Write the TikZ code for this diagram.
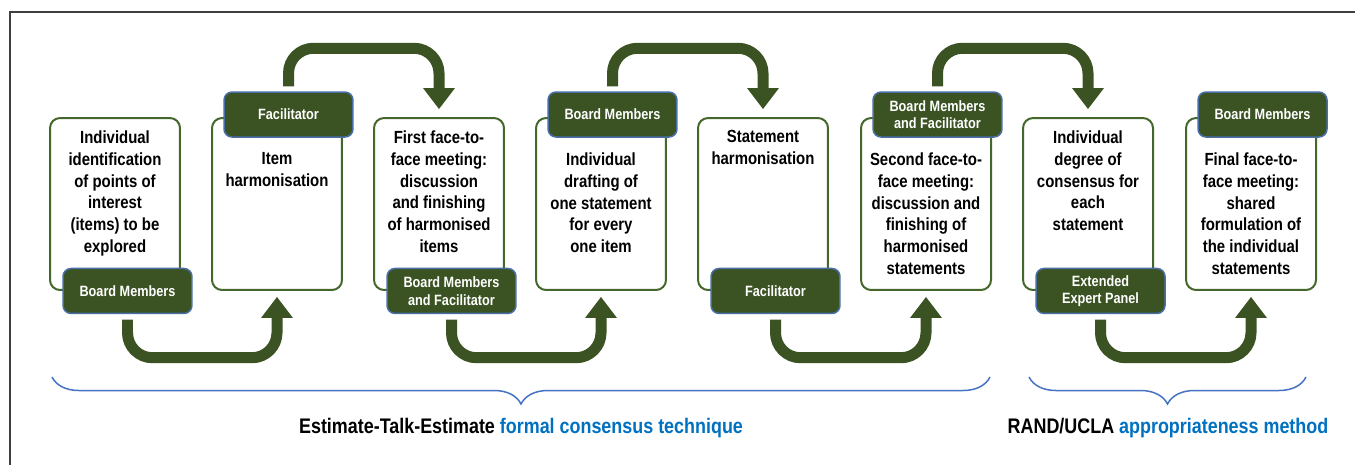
\documentclass[tikz,border=0pt]{standalone}
\usepackage{fontspec}
\setmainfont{Liberation Sans}[FakeStretch=0.85]
\usepackage{xcolor}
\usepackage{tikz}
\usetikzlibrary{arrows.meta,decorations.pathreplacing}

\definecolor{leaf}{HTML}{3B5323}
\definecolor{leafline}{HTML}{44672C}
\definecolor{tagline}{HTML}{4A6FA8}
\definecolor{bracecol}{HTML}{4472C4}
\definecolor{methodblue}{HTML}{0070C0}
\definecolor{framegray}{HTML}{3F3F3F}

\begin{document}
\begin{tikzpicture}%
                    [x={(0.02cm, 0cm)},
                    y={(0cm, -0.02cm)},
                    stage/.style={draw=leafline, line width=0.04cm, fill=white, rounded corners=0.2cm, minimum width=2.6cm, minimum height=3.44cm, inner sep=0pt},
                    stagetext/.style={anchor=north, align=center, inner sep=0pt, font=\bfseries\fontsize{10}{12.5}\selectfont},
                    role/.style={draw=tagline, line width=0.03cm, fill=leaf, text=white, rounded corners=0.16cm, minimum width=2.58cm, minimum height=0.9cm, inner sep=1pt, align=center, font=\bfseries\fontsize{8.5}{10}\selectfont},
                    flow/.style={draw=leaf, line width=0.22cm, rounded corners=0.5cm, -{Triangle[width=0.64cm,length=0.42cm,line width=0pt]}},
                    span/.style={draw=bracecol, line width=0.03cm, decorate, decoration={brace, mirror, amplitude=0.54cm}},
                    method/.style={font=\bfseries\fontsize{12}{14}\selectfont}]

                \useasboundingbox (0,0) rectangle (1355,464);
                %% Drawing the frame
                \draw[framegray, line width=0.03cm] (10,490) -- (10,12) -- (1380,12);
                %%
                %% Drawing the stages
                %%
                \node[stage] (b1) at (115,204) {};
                \node[stage] (b2) at (277,204) {};
                \node[stage] (b3) at (439,204) {};
                \node[stage] (b4) at (601,204) {};
                \node[stage] (b5) at (763,204) {};
                \node[stage] (b6) at (926,204) {};
                \node[stage] (b7) at (1088,204) {};
                \node[stage] (b8) at (1251,204) {};
                \node[stagetext] (x1) at ([yshift=-0.26cm]b1.north) {Individual\\identification\\of points of\\interest\\(items) to be\\explored};
                \node[stagetext] (x2) at ([yshift=-0.7cm]b2.north) {Item\\harmonisation};
                \node[stagetext] (x3) at ([yshift=-0.26cm]b3.north) {First face-to-\\face meeting:\\discussion\\and finishing\\of harmonised\\items};
                \node[stagetext] (x4) at ([yshift=-0.7cm]b4.north) {Individual\\drafting of\\one statement\\for every\\one item};
                \node[stagetext] (x5) at ([yshift=-0.26cm]b5.north) {Statement\\harmonisation};
                \node[stagetext] (x6) at ([yshift=-0.7cm]b6.north) {Second face-to-\\face meeting:\\discussion and\\finishing of\\harmonised\\statements};
                \node[stagetext] (x7) at ([yshift=-0.26cm]b7.north) {Individual\\degree of\\consensus for\\each\\statement};
                \node[stagetext] (x8) at ([yshift=-0.7cm]b8.north) {Final face-to-\\face meeting:\\shared\\formulation of\\the individual\\statements};
                %%
                %% Drawing the roles
                %%
                \node[role] (r1) at ([xshift=0.25cm]b1.south) {Board Members};
                \node[role] (r2) at ([xshift=0.23cm,yshift=0.05cm]b2.north) {Facilitator};
                \node[role] (r3) at ([xshift=0.25cm]b3.south) {Board Members\\and Facilitator};
                \node[role] (r4) at ([xshift=0.23cm,yshift=0.05cm]b4.north) {Board Members};
                \node[role] (r5) at ([xshift=0.25cm]b5.south) {Facilitator};
                \node[role] (r6) at ([xshift=0.23cm,yshift=0.05cm]b6.north) {Board Members\\and Facilitator};
                \node[role] (r7) at ([xshift=0.25cm]b7.south) {Extended\\Expert Panel};
                \node[role] (r8) at ([xshift=0.23cm,yshift=0.05cm]b8.north) {Board Members};
                %%
                %% Drawing the flow
                %%
                \draw[flow] ([yshift=-0.11cm]r1.south) -- ++(0,38) -| ([yshift=-0.12cm]b2.south);
                \draw[flow] ([yshift=0.1cm]r2.north) -- ++(0,-38) -| ([yshift=0.16cm]b3.north);
                \draw[flow] ([yshift=-0.11cm]r3.south) -- ++(0,38) -| ([yshift=-0.12cm]b4.south);
                \draw[flow] ([yshift=0.1cm]r4.north) -- ++(0,-38) -| ([yshift=0.16cm]b5.north);
                \draw[flow] ([yshift=-0.11cm]r5.south) -- ++(0,38) -| ([yshift=-0.12cm]b6.south);
                \draw[flow] ([yshift=0.1cm]r6.north) -- ++(0,-38) -| ([yshift=0.16cm]b7.north);
                \draw[flow] ([yshift=-0.11cm]r7.south) -- ++(0,38) -| ([yshift=-0.12cm]b8.south);
                %%
                %% Drawing the methods
                %%
                \coordinate (etsL) at (52,377);
                \coordinate (etsR) at (990,377);
                \coordinate (randL) at (1029,377);
                \coordinate (randR) at (1306,377);
                \draw[span] (etsL) -- (etsR);
                \draw[span] (randL) -- (randR);
                \node[method] (ets) at (521,428) {Estimate-Talk-Estimate \textcolor{methodblue}{formal consensus technique}};
                \node[method] (rand) at (1168,428) {RAND/UCLA \textcolor{methodblue}{appropriateness method}};
                %%
                \end{tikzpicture}
\end{document}
